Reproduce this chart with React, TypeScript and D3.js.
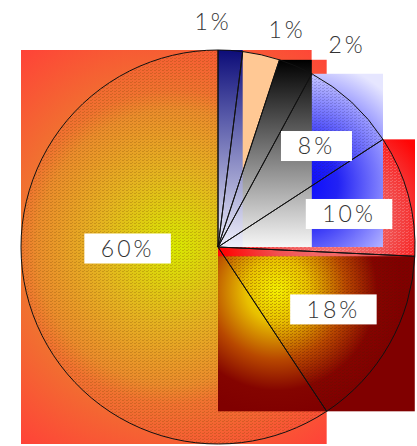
import React from "react";
import * as d3 from "d3";

// ---- data ----
const sliceNames = ["Navy", "Peach", "Black", "Blue", "Red", "Maroon", "Orange"];
const sliceValues = [2.0, 3.05, 2.85, 7.9, 9.95, 14.95, 59.3];
const sliceLabels = ["1%", "1%", "2%", "8%", "10%", "18%", "60%"];

// ---- layout / style ----
const W = 417;
const H = 446;
const CX = 218;
const CY = 247;
const R = 197;

// label placement: offset (deg) from slice mid-angle, radius as fraction of R
const labelAngleOffset = [-4.87, 4.95, 9.25, 1.62, 1.07, -1.21, 15.79];
const labelRadius = [1.142, 1.157, 1.218, 0.716, 0.686, 0.666, 0.459];

type Fill =
  | { kind: "solid"; color: string }
  | { kind: "linear"; stops: [number, string][] }
  | { kind: "radial"; fx: number; fy: number; rf: number; diag?: boolean; stops: [number, string][]; tex?: string };

const fills: Fill[] = [
  { kind: "linear", stops: [[0, "#0c0c78"], [0.35, "#5a5caa"], [1, "#eeeefa"]] },
  { kind: "solid", color: "#ffc894" },
  { kind: "linear", stops: [[0, "#000000"], [0.5, "#7a7a7a"], [1, "#f6f6f6"]] },
  {
    kind: "radial", fx: 0.5, fy: 0.64, rf: 0.76, tex: "rgba(40,40,110,0.22)",
    stops: [[0, "#0808ff"], [0.3, "#2222f4"], [0.7, "#9090ff"], [1, "#e6e6ff"]],
  },
  {
    kind: "radial", fx: 0.57, fy: 0.69, rf: 0.56, tex: "rgba(255,210,210,0.25)",
    stops: [[0, "#f88484"], [0.55, "#f05252"], [1, "#ff0606"]],
  },
  {
    kind: "radial", fx: 0.3, fy: 0.265, rf: 0.635, tex: "rgba(90,20,0,0.3)",
    stops: [[0, "#f4f000"], [0.25, "#e8c000"], [0.55, "#b84800"], [0.8, "#840400"], [1, "#800000"]],
  },
  {
    kind: "radial", fx: 0.5, fy: 0.5, rf: 0.5, diag: true, tex: "rgba(120,70,0,0.26)",
    stops: [[0, "#d8e800"], [0.3, "#e4b420"], [0.55, "#ea8c2c"], [0.63, "#f07230"], [1, "#ff4238"]],
  },
];

const toRad = (d: number) => (d * Math.PI) / 180;
// coordinates relative to the pie centre
const pt = (a: number, r: number) => [r * Math.sin(a), -r * Math.cos(a)];

function arcBox(a0: number, a1: number) {
  const pts: number[][] = [[0, 0], pt(a0, R), pt(a1, R)];
  for (let k = 0; k <= 4; k++) {
    const a = (k * Math.PI) / 2;
    if (a > a0 && a < a1) pts.push(pt(a, R));
  }
  const xs = pts.map((p) => p[0]);
  const ys = pts.map((p) => p[1]);
  return { x0: d3.min(xs)!, x1: d3.max(xs)!, y0: d3.min(ys)!, y1: d3.max(ys)! };
}

export default function App() {
  const pie = d3
    .pie<number>()
    .sort(null)
    .value((d) => d)
    .startAngle(0)
    .endAngle(2 * Math.PI);
  const arcs = pie(sliceValues);
  const arcGen = d3.arc<d3.PieArcDatum<number>>().innerRadius(0).outerRadius(R);

  const boxes = arcs.map((a) => arcBox(a.startAngle, a.endAngle));
  const order = d3.range(arcs.length).reverse();

  const defs = fills.map((f, i) => {
    const b = boxes[i];
    const w = b.x1 - b.x0;
    const h = b.y1 - b.y0;
    if (f.kind === "linear") {
      return (
        <linearGradient key={i} id={`g${i}`} gradientUnits="userSpaceOnUse" x1={b.x0} x2={b.x0} y1={b.y0} y2={b.y1}>
          {f.stops.map(([o, c], j) => (
            <stop key={j} offset={o} stopColor={c} />
          ))}
        </linearGradient>
      );
    }
    if (f.kind === "radial") {
      const cx = b.x0 + f.fx * w;
      const cy = b.y0 + f.fy * h;
      const r = f.diag ? f.rf * Math.hypot(w, h) : f.rf * w;
      return (
        <radialGradient key={i} id={`g${i}`} gradientUnits="userSpaceOnUse" cx={cx} cy={cy} r={r}>
          {f.stops.map(([o, c], j) => (
            <stop key={j} offset={o} stopColor={c} />
          ))}
        </radialGradient>
      );
    }
    return null;
  });

  const textures = fills.map((f, i) =>
    f.kind === "radial" && f.tex ? (
      <pattern key={`t${i}`} id={`t${i}`} width={4} height={3} patternUnits="userSpaceOnUse">
        <rect x={0} y={0} width={2} height={1} fill={f.tex} />
        <rect x={2} y={2} width={1} height={1} fill={f.tex} />
      </pattern>
    ) : null
  );

  const fillOf = (i: number) => {
    const f = fills[i];
    return f.kind === "solid" ? f.color : `url(#g${i})`;
  };

  return (
    <svg
      width={W}
      height={H}
      style={{ position: "absolute", left: 0, top: 0, background: "#ffffff" }}
    >
      <defs>
        {defs}
        {textures}
      </defs>
      <g transform={`translate(${CX},${CY})`}>
        {order.map((i) => {
          const b = boxes[i];
          const f = fills[i];
          return (
            <g key={i}>
              {f.kind !== "solid" && (
                <rect x={b.x0} y={b.y0} width={b.x1 - b.x0} height={b.y1 - b.y0} fill={fillOf(i)} />
              )}
              <path d={arcGen(arcs[i]) || ""} fill={fillOf(i)} />
              {f.kind === "radial" && f.tex && <path d={arcGen(arcs[i]) || ""} fill={`url(#t${i})`} />}
            </g>
          );
        })}
        {arcs.map((a, i) => (
          <path key={`o${i}`} d={arcGen(a) || ""} fill="none" stroke="#111" strokeWidth={1} />
        ))}
        {arcs.map((a, i) => {
          const mid = (a.startAngle + a.endAngle) / 2 + toRad(labelAngleOffset[i]);
          const [x, y] = pt(mid, R * labelRadius[i]);
          const txt = sliceLabels[i];
          const bw = 40 + 15.5 * txt.length;
          const bh = 30;
          return (
            <g key={`l${i}`} aria-label={sliceNames[i]}>
              <rect x={x - bw / 2} y={y - bh / 2} width={bw} height={bh} fill="#ffffff" />
              <text
                x={x}
                y={y}
                dy="0.36em"
                textAnchor="middle"
                fontFamily="Lato, 'Open Sans', sans-serif"
                fontWeight={300}
                fontSize={23}
                letterSpacing={3}
                fill="#333"
              >
                {txt}
              </text>
            </g>
          );
        })}
      </g>
    </svg>
  );
}
